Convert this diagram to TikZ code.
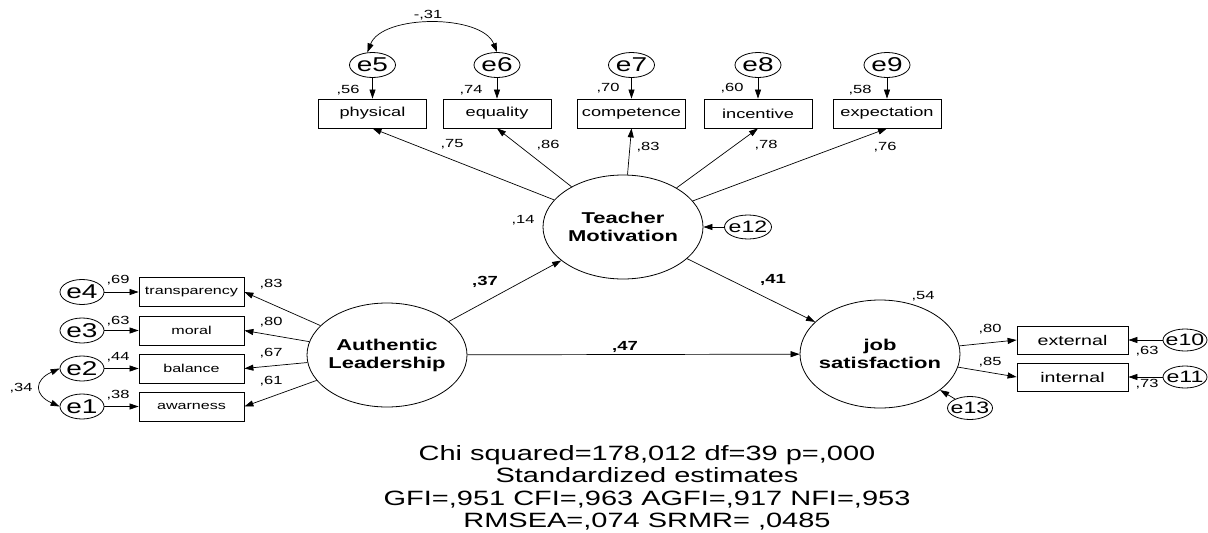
\documentclass[tikz,border=0pt]{standalone}
\usepackage{fontspec}
\setmainfont{Liberation Sans}[FakeStretch=1.4]
\usetikzlibrary{shapes.geometric,arrows.meta}
\newcommand\ztext[1]{\makebox[0pt]{#1}}
\newcommand\fsz[1]{\fontsize{#1}{#1}\selectfont}
\begin{document}
\begin{tikzpicture}[x=1pt,y=-1pt,
  arr/.style={-{Triangle[length=9pt,width=6pt]}, line width=0.7pt},
  cov/.style={{Triangle[length=9pt,width=6pt]}-{Triangle[length=9pt,width=6pt]}, line width=0.7pt},
  latent/.style={ellipse, draw, line width=0.8pt, minimum width=160pt, minimum height=104pt, inner sep=0pt},
  lattext/.style={align=center, font=\fontsize{15.7}{18}\selectfont\bfseries, inner sep=0pt},
  errA/.style={ellipse, draw, line width=0.8pt, minimum width=46pt, minimum height=25pt, inner sep=0pt, font=\fsz{20}},
  errB/.style={ellipse, draw, line width=0.8pt, minimum width=45pt, minimum height=23pt, inner sep=0pt, font=\fsz{16.5}},
  boxT/.style={rectangle, draw, line width=0.8pt, minimum width=108pt, minimum height=29pt, inner sep=0pt, font=\fsz{13}},
  boxL/.style={rectangle, draw, line width=0.8pt, minimum width=105pt, minimum height=29pt, inner sep=0pt, font=\fsz{11.5}},
  boxR/.style={rectangle, draw, line width=0.8pt, minimum width=111pt, minimum height=28pt, inner sep=0pt, font=\fsz{14}},
  lab/.style={inner sep=0pt, font=\fsz{11.8}},
  blab/.style={inner sep=0pt, font=\fsz{13.2}\bfseries},
  stat/.style={inner sep=0pt, anchor=base, font=\fsz{20.7}}
]
\path[use as bounding box, fill=white] (0,0) rectangle (1208,533);

% latent variables
\node[latent] (TM) at (623,227) {};
\node[lattext] (TMt) at (623,227) {Teacher\\Motivation};
\node[latent] (AL) at (387,355) {};
\node[lattext] (ALt) at (387,355) {Authentic\\Leadership};
\node[latent, minimum height=108pt] (JS) at (880,354) {};
\node[lattext] (JSt) at (880,354) {job\\satisfaction};

% top indicators
\node[boxT] (phy) at (372.5,113.5) {physical};
\node[boxT] (equ) at (497,113.5) {equality};
\node[boxT] (com) at (631.5,113.5) {competence};
\node[boxT] (inc) at (758,113.5) {incentive};
\node[boxT] (exq) at (887,113.5) {expectation};
\node[errA] (e5) at (372.5,65) {\ztext{e5}};
\node[errA] (e6) at (497,65) {\ztext{e6}};
\node[errA] (e7) at (631.5,65) {\ztext{e7}};
\node[errA] (e8) at (758,65) {\ztext{e8}};
\node[errA] (e9) at (887,65) {\ztext{e9}};

% left indicators
\node[boxL] (tra) at (191.5,292) {transparency};
\node[boxL] (mor) at (191.5,330.5) {moral};
\node[boxL] (bal) at (191.5,368.5) {balance};
\node[boxL] (awa) at (191.5,406.5) {awarness};
\node[errA, minimum width=44pt] (e4) at (82,292) {\ztext{e4}};
\node[errA, minimum width=44pt] (e3) at (82,330.5) {\ztext{e3}};
\node[errA, minimum width=44pt] (e2) at (82,368.5) {\ztext{e2}};
\node[errA, minimum width=44pt] (e1) at (82,406.5) {\ztext{e1}};

% right indicators
\node[boxR] (ext) at (1072.5,340) {external};
\node[boxR] (int) at (1072.5,377) {internal};
\node[errB, minimum width=44pt, minimum height=22pt] (e10) at (1185,340) {\ztext{e10}};
\node[errB, minimum width=44pt, minimum height=22pt] (e11) at (1185,377) {\ztext{e11}};
\node[errB, minimum width=47pt, minimum height=24pt] (e12) at (748,227) {\ztext{e12}};
\node[errB] (e13) at (970,408) {\ztext{e13}};

% connectors
\foreach \e/\b in {e5/phy,e6/equ,e7/com,e8/inc,e9/exq,e4/tra,e3/mor,e2/bal,e1/awa,e10/ext,e11/int}
  \draw[arr] (\e) -- (\b);
\foreach \b in {phy,equ,com,inc,exq}
  \draw[arr] (TM) -- (\b.south);
\foreach \b in {tra,mor,bal,awa}
  \draw[arr] (AL) -- (\b.east);
\draw[arr] (AL) -- (TM);
\draw[arr] (TM) -- (JS);
\draw[arr] (AL) -- (JS);
\draw[arr] (e12) -- (TM);
\draw[arr] (e13) -- (JS);
\draw[arr] (JS) -- (ext.west);
\draw[arr] (JS) -- (int.west);
\draw[cov] (e5.112) .. controls (382,14) and (482,14) .. (e6.north);
\draw[cov] (e2.west) .. controls (34,380) and (34,395) .. (e1.west);

% labels
\node[lab] (l31) at (428,15) {-,31};
\node[lab] (l56) at (348,90) {,56};
\node[lab] (l74) at (471,90) {,74};
\node[lab] (l70) at (608,88) {,70};
\node[lab] (l60) at (732,88) {,60};
\node[lab] (l58) at (860,90) {,58};
\node[lab] (l75) at (452,144) {,75};
\node[lab] (l86) at (548,145) {,86};
\node[lab] (l83) at (648,147) {,83};
\node[lab] (l78) at (766,145) {,78};
\node[lab] (l76) at (885,147) {,76};
\node[lab] (l14) at (523,220) {,14};
\node[blab] (l37) at (485,282) {,37};
\node[blab] (l41) at (773,280) {,41};
\node[blab] (l47) at (625,347) {,47};
\node[lab] (l54) at (923,296) {,54};
\node[lab] (l80r) at (990,329) {,80};
\node[lab] (l85) at (990,362) {,85};
\node[lab] (l63r) at (1147,351) {,63};
\node[lab] (l73) at (1147,384) {,73};
\node[lab] (l69) at (118,280) {,69};
\node[lab] (l63) at (118,321) {,63};
\node[lab] (l44) at (118,357) {,44};
\node[lab] (l38) at (118,395) {,38};
\node[lab] (l83l) at (271,284) {,83};
\node[lab] (l80l) at (271,322) {,80};
\node[lab] (l67) at (271,353) {,67};
\node[lab] (l61) at (271,381) {,61};
\node[lab] (l34) at (21,388) {,34};

% fit statistics
\node[stat] (s1) at (647,460) {Chi squared=178,012 df=39 p=,000};
\node[stat] (s2) at (647,482.5) {Standardized estimates};
\node[stat] (s3) at (647,505) {GFI=,951 CFI=,963 AGFI=,917 NFI=,953};
\node[stat] (s4) at (647,527.5) {RMSEA=,074 SRMR= ,0485};
\end{tikzpicture}
\end{document}
